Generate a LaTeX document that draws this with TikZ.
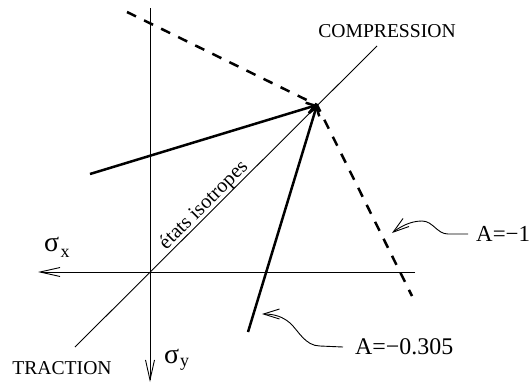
\documentclass[tikz,border=0pt]{standalone}
\usepackage{fontspec}
\setmainfont{Liberation Serif}
\usetikzlibrary{arrows.meta,calc}
\begin{document}
\begin{tikzpicture}[x=1bp,y=-1bp,
  axisline/.style={line width=0.9bp,-{Straight Barb[length=20bp,width=9bp,line width=0.9bp]}},
  diagline/.style={line width=0.9bp},
  boldarrow/.style={line width=2.5bp,-{Straight Barb[length=8bp,width=11bp]}},
  dashline/.style={line width=2.5bp,dash pattern=on 10bp off 9bp},
  leader/.style={line width=0.9bp,-{Straight Barb[length=16bp,width=10bp,line width=0.9bp]}},
  lbl/.style={inner sep=0pt},
  bigtext/.style={lbl,font=\fontsize{19.7}{22}\selectfont},
  atext/.style={lbl,font=\fontsize{24}{26}\selectfont},
]
\useasboundingbox (0,0) rectangle (531,383);
% main points
\coordinate (O) at (150,272);
\coordinate (P) at (317,105);
\coordinate (C) at (377,46);
\coordinate (T) at (75,347);
\coordinate (xr) at (415,272);
\coordinate (xl) at (38,272);
\coordinate (yt) at (150,8);
\coordinate (yb) at (150,382);
\coordinate (d1) at (127,12);
\coordinate (d2) at (412,296);
\coordinate (s1) at (90,174);
\coordinate (s2) at (248,332);
% axes
\draw[axisline] (xr) -- (xl);
\draw[axisline] (yt) -- (yb);
% isotropic diagonal
\draw[diagline] (T) -- (C);
% dashed curve A=-1
\draw[dashline] (d1) -- (P) -- (d2);
% bold arrows A=-0.305
\draw[boldarrow] (s1) -- (P);
\draw[boldarrow] (s2) -- (P);
% labels
\node[bigtext] (comp) at (387,31) {COMPRESSION};
\node[bigtext] (trac) at (62,368) {TRACTION};
\node[lbl,font=\fontsize{20.5}{22}\selectfont,rotate=45,anchor=base] (iso) at (207.5,209) {états isotropes};
\node[lbl,anchor=base west,font=\fontsize{28}{28}\selectfont] (sx) at (44,251) {σ\kern1.5bp\raisebox{-6bp}{\fontsize{18}{18}\selectfont x}};
\node[lbl,anchor=base west,font=\fontsize{28}{28}\selectfont] (sy) at (164,363) {σ\kern1bp\raisebox{-3bp}{\fontsize{18}{18}\selectfont y}};
\node[atext,anchor=west,font=\fontsize{23}{26}\selectfont] (a1) at (476,234) {A=−1};
\node[atext,anchor=west] (a2) at (355,347) {A=−0.305};
% leaders
\coordinate (t1) at (392,233);
\coordinate (t2) at (262,314);
\draw[leader] ([xshift=-8bp]a1.west) -- (448,234)
  .. controls (437,234) and (433,221) .. (422,221)
  .. controls (410,221) and (400,227) .. (t1);
\draw[leader] ([xshift=-12bp]a2.west) -- (320,346)
  .. controls (305,346) and (298,330) .. (290,323)
  .. controls (283,317) and (275,314) .. (t2);
\end{tikzpicture}
\end{document}
